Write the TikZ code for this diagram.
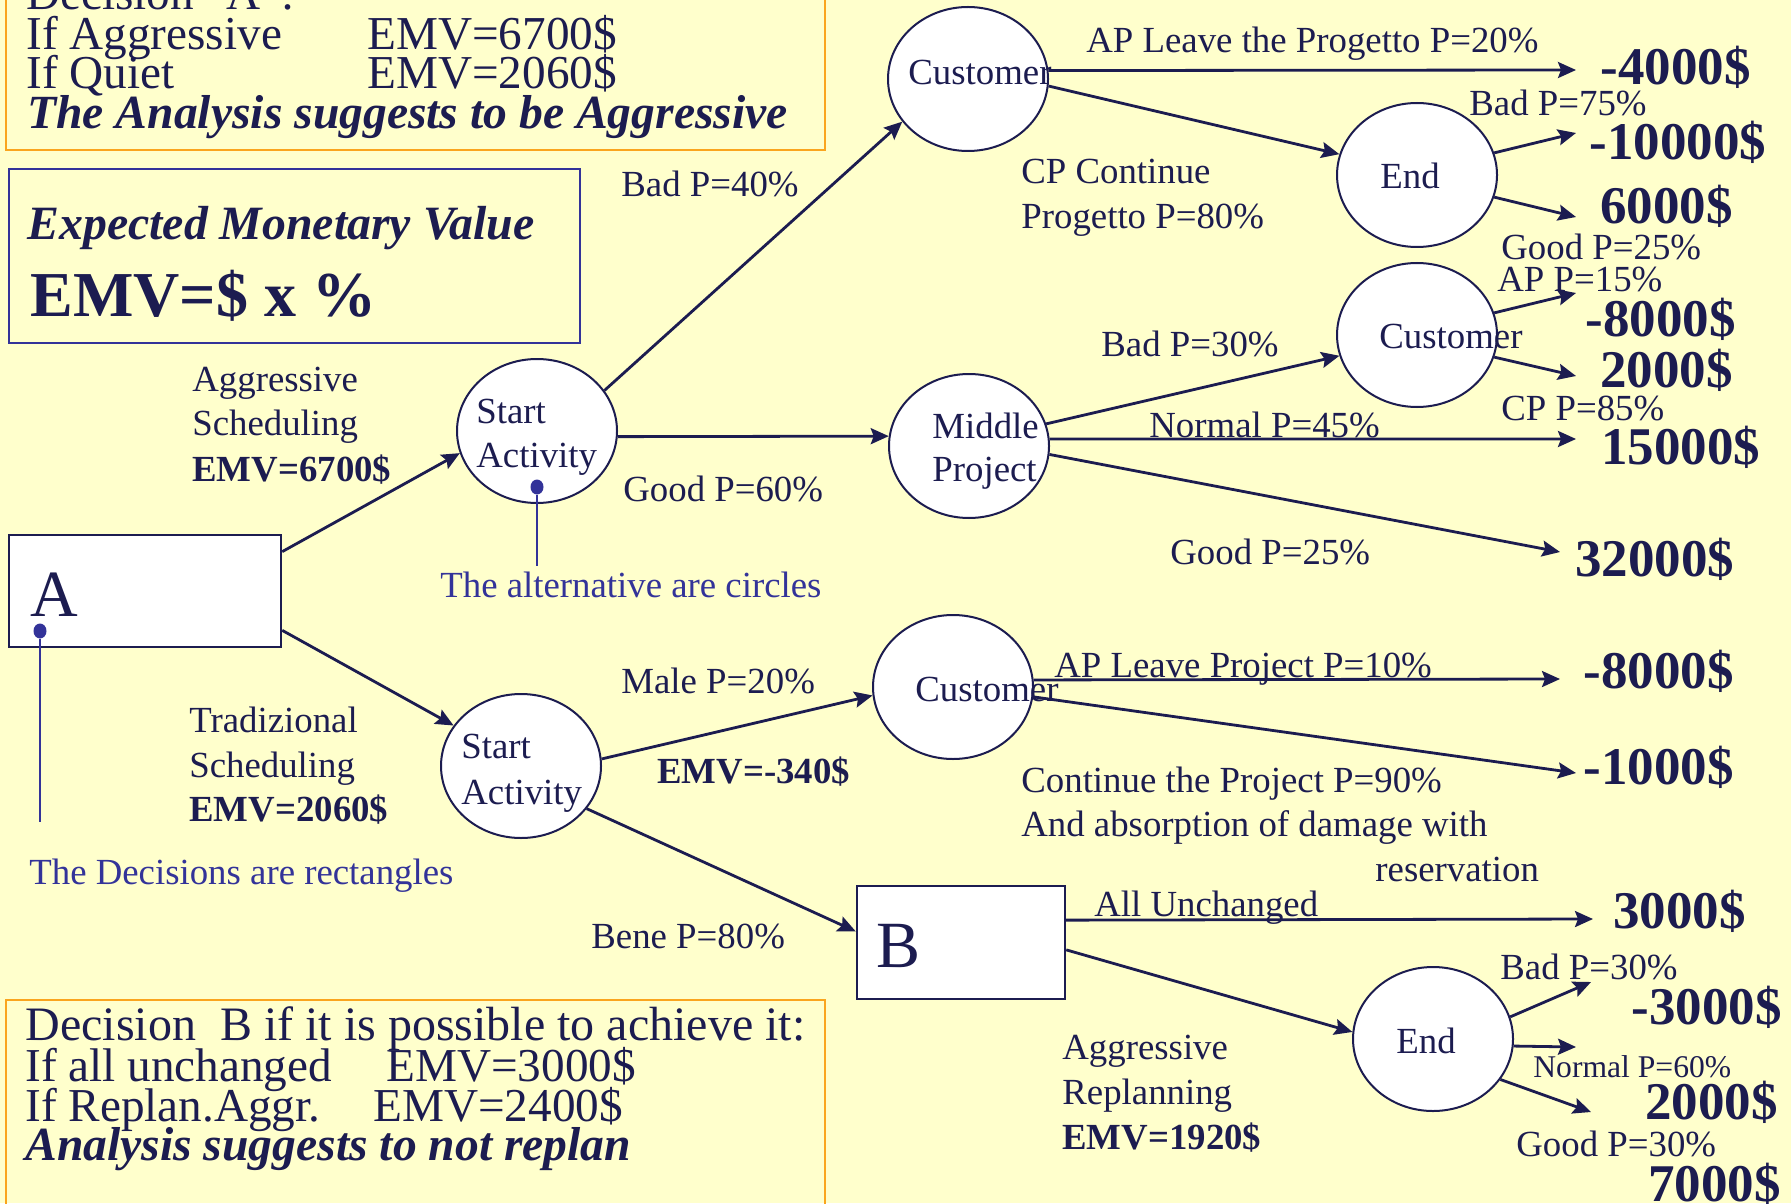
\documentclass[tikz,border=0pt]{standalone}
\usepackage{fontspec}
\setmainfont{Liberation Serif}
\usetikzlibrary{arrows.meta,shapes.geometric}
\definecolor{bg}{RGB}{255,255,204}
\definecolor{navy}{RGB}{28,28,80}
\definecolor{ann}{RGB}{51,51,153}
\definecolor{orng}{RGB}{250,165,30}
\begin{document}
\begin{tikzpicture}[x=0.5pt,y=-0.5pt,
 alt/.style={ellipse, draw=navy, line width=1pt, fill=white, minimum width=80pt, minimum height=72pt, inner sep=0pt},
 dec/.style={rectangle, draw=navy, line width=1.2pt, fill=white, inner sep=0pt},
 lab/.style={anchor=base west, inner sep=0pt, text=navy, font=\fontsize{18.4}{22}\selectfont},
 labb/.style={anchor=base west, inner sep=0pt, text=navy, font=\fontsize{18.4}{22}\selectfont\bfseries},
 labs/.style={anchor=base west, inner sep=0pt, text=navy, font=\fontsize{15.8}{19}\selectfont},
 val/.style={anchor=base west, inner sep=0pt, text=navy, font=\fontsize{26.5}{30}\selectfont\bfseries},
 boxt/.style={anchor=base west, inner sep=0pt, text=navy, font=\fontsize{23.6}{28}\selectfont},
 boxbi/.style={anchor=base west, inner sep=0pt, text=navy, font=\fontsize{23.8}{28}\selectfont\bfseries\itshape},
 conn/.style={draw=navy, line width=1.4pt, -{Stealth[length=9pt,width=8pt,inset=1.5pt]}},
 annl/.style={draw=ann, line width=0.8pt},
 annt/.style={anchor=base west, inner sep=0pt, text=ann, font=\fontsize{18.4}{22}\selectfont},
 dot/.style={ellipse, fill=ann, minimum width=6.5pt, minimum height=7.5pt, inner sep=0pt},
]
\fill[bg] (0,0) rectangle (1791,1203);
\useasboundingbox (0,0) rectangle (1791,1203);
\clip (0,0) rectangle (1791,1203);

% ---- top orange box
\draw[orng, line width=1.3pt] (6,-20) rectangle (825,150);
\node[boxt] (t1) at (26,10) {Decision "A":};
\node[boxt] (t2) at (26,50) {If Aggressive};
\node[boxt] (t2b) at (367,50) {EMV=6700\$};
\node[boxt] (t3) at (26,89) {If Quiet};
\node[boxt] (t3b) at (367,89) {EMV=2060\$};
\node[boxbi] (t4) at (27,129) {The Analysis suggests to be Aggressive};

% ---- EMV box
\draw[ann, line width=1pt] (9,169) rectangle (580,343);
\node[anchor=base west, inner sep=0pt, text=navy, font=\fontsize{23.9}{28}\selectfont\bfseries\itshape] (emv1) at (27,240) {Expected Monetary Value};
\node[anchor=base west, inner sep=0pt, text=navy, font=\fontsize{32}{36}\selectfont\bfseries] (emv2) at (30,316) {EMV=\$ x \%};

% ---- bottom orange box
\draw[orng, line width=1.3pt] (6,1000) rectangle (825,1240);
\node[anchor=base west, inner sep=0pt, text=navy, font=\fontsize{24}{28}\selectfont] (b1) at (25,1040) {Decision\ \ B if it is possible to achieve it:};
\node[boxt] (b2) at (25,1081) {If all unchanged};
\node[boxt] (b2b) at (386,1081) {EMV=3000\$};
\node[boxt] (b3) at (25,1121) {If Replan.Aggr.};
\node[boxt] (b3b) at (373,1121) {EMV=2400\$};
\node[boxbi] (b4) at (25,1160) {Analysis suggests to not replan};

% ---- shapes
\node[dec, minimum width=136pt, minimum height=56pt] (A) at (145,591) {};
\node[dec, minimum width=104pt, minimum height=56.5pt] (B) at (961,942.5) {};
\node[alt] (sa1) at (537,431) {};
\node[alt] (sa2) at (521,766) {};
\node[alt] (c1) at (968,79) {};
\node[alt] (e1) at (1417,175) {};
\node[alt] (mp) at (969,446) {};
\node[alt] (c2) at (1417,335) {};
\node[alt] (c3) at (953,687) {};
\node[alt] (e2) at (1433,1039) {};

% ---- arrow tip coordinates
\coordinate (tA4000) at (1576,70);
\coordinate (t10000) at (1576,133);
\coordinate (t6000) at (1576,217);
\coordinate (t8000a) at (1576,293);
\coordinate (t2000a) at (1576,376);
\coordinate (t15000) at (1576,439);
\coordinate (t32000) at (1560,552);
\coordinate (t8000b) at (1560,679);
\coordinate (t1000) at (1576,773);
\coordinate (t3000) at (1593,919);
\coordinate (t3000n) at (1591,982);
\coordinate (t2000b) at (1576,1047);
\coordinate (t7000) at (1591,1112);

% ---- connectors
\draw[conn] (A.16.8) -- (sa1.196.5);
\draw[conn] (A.-16.4) -- (sa2.149);
\draw[conn] (sa1.31.6) -- (c1.213);
\draw[conn] (sa1.-4.3) -- (mp.173.6);
\draw[conn] (sa2.5.6) -- (c3.186.4);
\draw[conn] (sa2.-33.5) -- (B.174.8);
\draw[conn] (c1.6.4) -- (tA4000);
\draw[conn] (c1.-5.6) -- (e1.165.5);
\draw[conn] (e1.16.7) -- (t10000);
\draw[conn] (e1.-16.7) -- (t6000);
\draw[conn] (mp.16) -- (c2.195.4);
\draw[conn] (mp.5) -- (t15000);
\draw[conn] (mp.-6.4) -- (t32000);
\draw[conn] (c2.16.7) -- (t8000a);
\draw[conn] (c2.-16) -- (t2000a);
\draw[conn] (c3.5.7) -- (t8000b);
\draw[conn] (c3.-7) -- (t1000);
\draw[conn] (B.12.7) -- (t3000);
\draw[conn] (B.-4.1) -- (e2.175.7);
\draw[conn] (e2.16.7) -- (t3000n);
\draw[conn] (e2.-5.7) -- (t2000b);
\draw[conn] (e2.-31.2) -- (t7000);

% ---- texts in shapes
\node[anchor=base west, inner sep=0pt, text=navy, font=\fontsize{33}{36}\selectfont] (Atxt) at (30,616) {A};
\node[anchor=base west, inner sep=0pt, text=navy, font=\fontsize{33}{36}\selectfont] (Btxt) at (876,967) {B};
\node[lab] (sa1a) at (476,423) {Start};
\node[lab] (sa1b) at (476,467) {Activity};
\node[lab] (sa2a) at (461,758) {Start};
\node[lab] (sa2b) at (461,804) {Activity};
\node[lab] (c1t) at (908,85) {Customer};
\node[lab] (e1t) at (1380,189) {End};
\node[lab] (c2t) at (1379,349) {Customer};
\node[lab] (mpa) at (932,438) {Middle};
\node[lab] (mpb) at (932,481) {Project};
\node[lab] (c3t) at (915,701) {Customer};
\node[lab] (e2t) at (1396,1053) {End};

% ---- annotations
\node[dot] (d1) at (537,487) {};
\coordinate (d1e) at (537,566);
\draw[annl] (d1) -- (d1e);
\node[annt] (ann1) at (440,597) {The alternative are circles};
\node[dot] (d2) at (40,631) {};
\coordinate (d2e) at (40,822);
\draw[annl] (d2) -- (d2e);
\node[annt] (ann2) at (29,884) {The Decisions are rectangles};

% ---- branch labels
\node[lab] (l1a) at (192,391) {Aggressive};
\node[lab] (l1b) at (192,435) {Scheduling};
\node[labb] (l1c) at (192,481) {EMV=6700\$};
\node[lab] (l2a) at (189,732) {Tradizional};
\node[lab] (l2b) at (189,777) {Scheduling};
\node[labb] (l2c) at (189,821) {EMV=2060\$};
\node[lab] (l3) at (621,197) {Bad P=40\%};
\node[lab] (l4) at (623,501) {Good P=60\%};
\node[lab] (l5) at (621,693) {Male P=20\%};
\node[labb] (l6) at (657,783) {EMV=-340\$};
\node[lab] (l7) at (591,948) {Bene P=80\%};
\node[lab] (l8) at (1086,53) {AP Leave the Progetto P=20\%};
\node[lab] (l9a) at (1021,184) {CP Continue};
\node[lab] (l9b) at (1021,229) {Progetto P=80\%};
\node[lab] (l10) at (1469,116) {Bad P=75\%};
\node[lab] (l11) at (1501,260) {Good P=25\%};
\node[lab] (l12) at (1497,292) {AP P=15\%};
\node[lab] (l13) at (1101,357) {Bad P=30\%};
\node[lab] (l14) at (1149,437) {Normal P=45\%};
\node[lab] (l15) at (1501,420) {CP P=85\%};
\node[lab] (l16) at (1170,564) {Good P=25\%};
\node[lab] (l17) at (1054,677) {AP Leave Project P=10\%};
\node[lab] (l18a) at (1021,792) {Continue the Project P=90\%};
\node[lab] (l18b) at (1021,836) {And absorption of damage with};
\node[lab] (l18c) at (1375,881) {reservation};
\node[lab] (l19) at (1094,916) {All Unchanged};
\node[lab] (l20) at (1500,979) {Bad P=30\%};
\node[labs] (l21) at (1533,1077) {Normal P=60\%};
\node[lab] (l22) at (1516,1156) {Good P=30\%};
\node[lab] (l23a) at (1062,1059) {Aggressive};
\node[lab] (l23b) at (1062,1104) {Replanning};
\node[labb] (l23c) at (1062,1149) {EMV=1920\$};

% ---- values
\node[val] (v1) at (1600,85) {-4000\$};
\node[val] (v2) at (1589,160) {-10000\$};
\node[val] (v3) at (1600,224) {6000\$};
\node[val] (v4) at (1585,336) {-8000\$};
\node[val] (v5) at (1600,387) {2000\$};
\node[val] (v6) at (1601,464) {15000\$};
\node[val] (v7) at (1575,576) {32000\$};
\node[val] (v8) at (1583,688) {-8000\$};
\node[val] (v9) at (1583,784) {-1000\$};
\node[val] (v10) at (1613,928) {3000\$};
\node[val] (v11) at (1631,1024) {-3000\$};
\node[val] (v12) at (1645,1119) {2000\$};
\node[val] (v13) at (1648,1201) {7000\$};
\end{tikzpicture}
\end{document}
